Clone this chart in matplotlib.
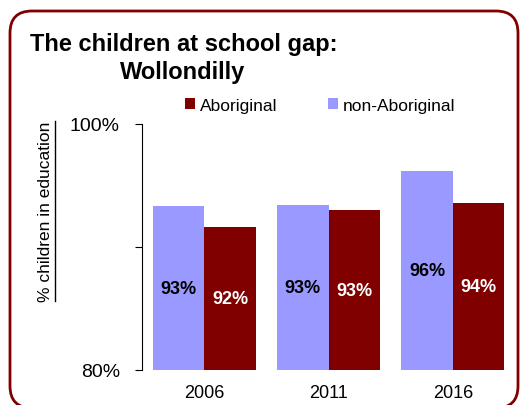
import matplotlib
matplotlib.use("Agg")
import matplotlib.pyplot as plt
from matplotlib.patches import FancyBboxPatch
from matplotlib.lines import Line2D
import numpy as np

plt.rcParams['font.family'] = ['Liberation Sans', 'DejaVu Sans']

# data
years = ["2006", "2011", "2016"]
non_aboriginal = [93.3, 93.4, 96.2]
aboriginal = [91.6, 93.0, 93.6]
non_abo_labels = ["93%", "93%", "96%"]
abo_labels = ["92%", "93%", "94%"]

abo_color = "#800000"
non_abo_color = "#9999FF"

fig = plt.figure(figsize=(5.31, 4.06), dpi=100)

# rounded frame round the whole chart
frame = FancyBboxPatch((0.10, -0.03), 5.08, 3.97,
                       boxstyle="round,pad=0,rounding_size=0.22",
                       transform=fig.dpi_scale_trans, facecolor="none",
                       edgecolor="#800000", linewidth=2, zorder=0)
fig.patches.append(frame)

ax = fig.add_axes([142 / 531, 35 / 406, 373 / 531, 246 / 406])
ax.set_facecolor("none")
ax.set_zorder(2)

x = np.arange(len(years))
w = 0.415
b1 = ax.bar(x - w / 2, [v - 80 for v in non_aboriginal], w, bottom=80,
            color=non_abo_color, label="non-Aboriginal")
b2 = ax.bar(x + w / 2, [v - 80 for v in aboriginal], w, bottom=80,
            color=abo_color, label="Aboriginal")

for i in range(len(years)):
    ax.text(x[i] - w / 2, (80 + non_aboriginal[i]) / 2, non_abo_labels[i],
            ha="center", va="center", fontsize=13, fontweight="bold", color="black")
    ax.text(x[i] + w / 2, (80 + aboriginal[i]) / 2, abo_labels[i],
            ha="center", va="center", fontsize=13, fontweight="bold", color="white")

ax.set_xlim(-0.5, 2.5)
ax.set_ylim(80, 100)
ax.set_yticks([80, 90, 100])
ax.set_yticklabels(["80%", "", "100%"], fontsize=14)
ax.set_xticks(x)
ax.set_xticklabels(years, fontsize=13)
ax.tick_params(axis="x", length=0, pad=10)
ax.tick_params(axis="y", length=5, width=0.8, pad=11)
for s in ["top", "right", "bottom"]:
    ax.spines[s].set_visible(False)
ax.spines["left"].set_linewidth(0.8)

# legend: Aboriginal first
ax.legend([b2, b1], ["Aboriginal", "non-Aboriginal"], ncol=2, frameon=False,
          fontsize=12.5, loc="center left", bbox_to_anchor=(185 / 531, 1 - 106 / 406),
          bbox_transform=fig.transFigure, borderpad=0, borderaxespad=0,
          handlelength=0.58, handleheight=0.58,
          handletextpad=0.29, columnspacing=2.9)

# title
fig.text(30 / 531, 1 - 44 / 406, "The children at school gap:", fontsize=17,
         fontweight="bold", ha="left", va="center")
fig.text(183 / 531, 1 - 73 / 406, "Wollondilly", fontsize=17,
         fontweight="bold", ha="center", va="center")

# underlined y label
ylab = fig.text(46 / 531, 1 - 212 / 406, "% children in education", fontsize=12.5,
                rotation=90, ha="center", va="center")
fig.canvas.draw()
bb = ylab.get_window_extent().transformed(fig.transFigure.inverted())
fig.add_artist(Line2D([bb.x1 + 0.002, bb.x1 + 0.002], [bb.y0, bb.y1],
                      transform=fig.transFigure, color="black", linewidth=1))

fig.savefig("out.png", dpi=100)
